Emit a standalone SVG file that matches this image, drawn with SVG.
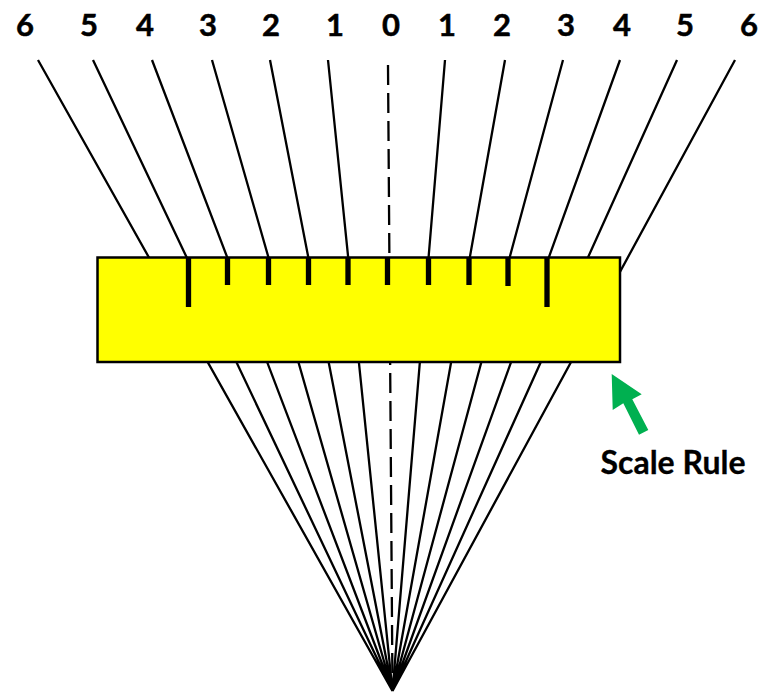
<svg xmlns="http://www.w3.org/2000/svg" width="773" height="692" viewBox="0 0 773 692">
<style>
.ray{stroke:#000;stroke-width:2.300;fill:none}
.dash{stroke:#000;stroke-width:2.300;fill:none;stroke-dasharray:20 8}
.tick{stroke:#000;stroke-width:5.300;fill:none}
.num{font-family:"Lato","Open Sans",sans-serif;font-weight:700;font-size:31px;fill:#000;stroke:#000;stroke-width:.5;text-anchor:middle}
.lab{font-family:"Lato","Open Sans",sans-serif;font-weight:700;font-size:32px;fill:#000;stroke:#000;stroke-width:.3;text-anchor:middle}
</style>
<rect width="773" height="692" fill="#fff"/>
<g id="connectors">
<path class="ray" d="M38 60L392.500 691M93 60L392.500 691M152 60L392.500 691M212 60L392.500 691M270 60L392.500 691M328 60L392.500 691M445 60L392.500 691M505 60L392.500 691M563 60L392.500 691M620 60L392.500 691M677 60L392.500 691M735 60L392.500 691"/>
<path class="dash" d="M388 65L392.500 691"/>
</g>
<g id="scale-rule">
<rect x="97.500" y="257.500" width="522.500" height="104.500" fill="#ffff00" stroke="#000" stroke-width="2.500"/>
<path class="tick" d="M188.500 258V307M547 258V307M227.500 258V285M268.500 258V285M308.500 258V285M348 258V285M387.500 258V285M428.500 258V285M469 258V285M508 258V286"/>
</g>
<g id="scale-labels">
<text class="num" x="25" y="36">6</text>
<text class="num" x="89" y="36">5</text>
<text class="num" x="145" y="36">4</text>
<text class="num" x="208" y="36">3</text>
<text class="num" x="271" y="36">2</text>
<text class="num" x="335" y="36">1</text>
<text class="num" x="391" y="36">0</text>
<text class="num" x="447" y="36">1</text>
<text class="num" x="502" y="36">2</text>
<text class="num" x="566" y="36">3</text>
<text class="num" x="622" y="36">4</text>
<text class="num" x="685" y="36">5</text>
<text class="num" x="749" y="36">6</text>
</g>
<g id="scale-rule-callout">
<polygon points="611.700,374 641.700,394.300 632.300,399.300 648.300,430 639,434.700 623.300,403.300 612.700,410" fill="#00b050"/>
<text class="lab" x="673" y="474">Scale Rule</text>
</g>
</svg>
